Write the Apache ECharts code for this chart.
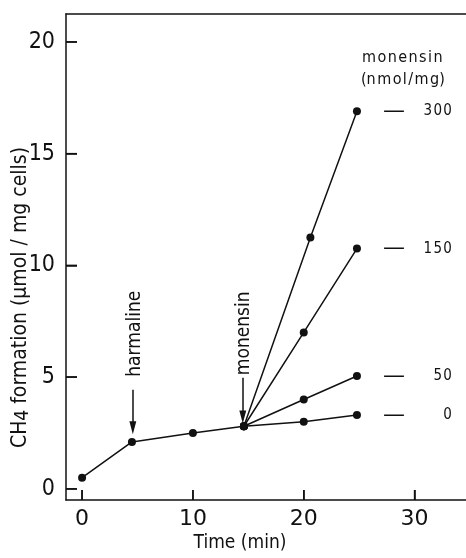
<!DOCTYPE html>
<html>
<head>
<meta charset="utf-8">
<script src="https://cdn.jsdelivr.net/npm/echarts@6/dist/echarts.min.js"></script>
<style>
html,body{margin:0;padding:0;background:#fff;}
#chart{width:466px;height:558px;}
</style>
</head>
<body>
<div id="chart"></div>
<script>
// ---- data ----
const baseTime = [0, 4.5, 10, 14.6];
const baseCH4 = [0.5, 2.1, 2.5, 2.8];

const time0 = [20, 24.8];
const ch4_0 = [3.0, 3.3];
const time50 = [20, 24.8];
const ch4_50 = [4.0, 5.05];
const time150 = [20, 24.8];
const ch4_150 = [7.0, 10.75];
const time300 = [20.6, 24.8];
const ch4_300 = [11.25, 16.9];

const doseLabels = ['0', '50', '150', '300'];
const xTicks = [0, 10, 20, 30];
const yTicks = [0, 5, 10, 15, 20];

// annotations: [x, yTop, yTip]
const harmalineArrow = [4.58, 4.43, 2.73];
const monensinArrow = [14.5, 4.97, 3.22];

const X_MIN = -1.45, X_MAX = 35, Y_MIN = -0.5, Y_MAX = 21.25;

const NARROW = '"Liberation Sans Narrow", "DejaVu Sans Condensed", sans-serif';
const INK = '#111';
const HAIR = '\u200A';

function zip(xs, ys) { return xs.map((x, i) => [x, ys[i]]); }
const branchPoint = [baseTime[baseTime.length - 1], baseCH4[baseCH4.length - 1]];

function spaced(s) { return s.split('').join(HAIR); }
function onlyTicks(list) { return v => (list.indexOf(v) >= 0 ? String(v) : ''); }

const branches = [
  { name: doseLabels[0], data: [branchPoint].concat(zip(time0, ch4_0)) },
  { name: doseLabels[1], data: [branchPoint].concat(zip(time50, ch4_50)) },
  { name: doseLabels[2], data: [branchPoint].concat(zip(time150, ch4_150)) },
  { name: doseLabels[3], data: [branchPoint].concat(zip(time300, ch4_300)) }
];

const lineCommon = {
  type: 'line',
  symbol: 'circle',
  symbolSize: 8,
  showAllSymbol: true,
  itemStyle: { color: INK },
  lineStyle: { color: INK, width: 1.5 },
  animation: false,
  z: 3
};

// slender up-pointing arrowhead inside a square box (markLine rotates it along the line)
const ARROW_HEAD = 'path://M0,0 L0.01,0 M12,0 L12.01,0 M6,0 L9.2,13 L2.8,13 Z';

// inward tick marks drawn through the axes' own scales
function tickSeries(points, dx, dy) {
  return {
    type: 'custom',
    silent: true,
    animation: false,
    z: 10,
    clip: false,
    encode: { x: 0, y: 1 },
    data: points,
    renderItem: function (params, api) {
      const p = api.coord([api.value(0), api.value(1)]);
      return {
        type: 'line',
        shape: { x1: p[0], y1: p[1], x2: p[0] + dx, y2: p[1] + dy },
        style: { stroke: INK, lineWidth: 1.5 }
      };
    }
  };
}

const series = [
  Object.assign({}, lineCommon, {
    name: 'base',
    data: zip(baseTime, baseCH4),
    markLine: {
      silent: true,
      symbol: ['none', ARROW_HEAD],
      symbolSize: 13,
      lineStyle: { color: INK, width: 1.5, type: 'solid' },
      itemStyle: { color: INK },
      label: { show: false },
      data: [
        [{ coord: [harmalineArrow[0], harmalineArrow[1]] }, { coord: [harmalineArrow[0], harmalineArrow[2]] }],
        [{ coord: [monensinArrow[0], monensinArrow[1]] }, { coord: [monensinArrow[0], monensinArrow[2]] }]
      ],
      animation: false
    },
    markPoint: {
      silent: true,
      symbol: 'circle',
      symbolSize: 0,
      label: {
        show: true,
        position: 'inside',
        rotate: 90,
        color: INK,
        fontFamily: NARROW,
        fontSize: 19
      },
      data: [
        { coord: [4.75, 6.94], value: 'harmaline', label: { formatter: 'harmaline' } },
        { coord: [14.6, 6.96], value: 'monensin', label: { formatter: 'monensin' } }
      ],
      animation: false
    }
  })
].concat(branches.map(b => Object.assign({}, lineCommon, {
  name: b.name,
  data: b.data,
  endLabel: {
    show: true,
    distance: 26,
    formatter: '{d|—}{n|' + spaced(b.name) + '}',
    rich: {
      d: { fontFamily: 'DejaVu Sans', fontSize: 22, width: 38, color: INK },
      n: { fontFamily: NARROW, fontSize: 15, width: 31, align: 'right', color: INK }
    }
  }
}))).concat([
  tickSeries(yTicks.map(v => [X_MIN, v]), 11, 0),
  tickSeries(xTicks.map(v => [v, Y_MIN]), 0, -10)
]);

const chart = echarts.init(document.getElementById('chart'), null, { renderer: 'canvas' });
chart.setOption({
  backgroundColor: '#fff',
  animation: false,
  title: [
    { text: spaced('monensin'), left: 362, top: 50, padding: 0,
      textStyle: { fontFamily: NARROW, fontSize: 16, fontWeight: 'normal', color: INK } },
    { text: '(' + spaced('nmol/mg') + ')', left: 361, top: 72, padding: 0,
      textStyle: { fontFamily: NARROW, fontSize: 16, fontWeight: 'normal', color: INK } }
  ],
  grid: { left: 66, top: 14, width: 404, height: 486, containLabel: false, outerBoundsMode: 'none' },
  xAxis: [
    {
      type: 'value', min: X_MIN, max: X_MAX, position: 'bottom', splitNumber: 4,
      axisLine: { show: true, onZero: false, lineStyle: { color: INK, width: 1.5 } },
      axisTick: { show: true, inside: true, length: 10, lineStyle: { color: INK, width: 1.5 } },
      axisLabel: { show: true, showMinLabel: false, showMaxLabel: false, formatter: onlyTicks(xTicks),
        fontFamily: 'DejaVu Sans', fontSize: 22, color: INK, margin: 8 },
      splitLine: { show: false },
      name: '{t|Time (min)}{p|}',
      nameLocation: 'middle',
      nameGap: 34,
      nameMoveOverlap: false,
      nameTextStyle: {
        rich: {
          t: { fontFamily: NARROW, fontSize: 19, color: INK },
          p: { width: 56 }
        }
      }
    },
    {
      type: 'value', min: X_MIN, max: X_MAX, position: 'top',
      axisLine: { show: true, onZero: false, lineStyle: { color: INK, width: 1.5 } },
      axisTick: { show: false }, axisLabel: { show: false }, splitLine: { show: false }
    }
  ],
  yAxis: {
    type: 'value', min: Y_MIN, max: Y_MAX, splitNumber: 5,
    axisLine: { show: true, onZero: false, lineStyle: { color: INK, width: 1.5 } },
    axisTick: { show: true, inside: true, length: 11, lineStyle: { color: INK, width: 1.5 } },
    axisLabel: { show: true, showMinLabel: false, showMaxLabel: false, formatter: onlyTicks(yTicks),
      fontFamily: NARROW, fontSize: 23, color: INK, margin: 11 },
    splitLine: { show: false },
    name: '{a|CH}{s|4}{a| formation (μmol / mg cells)}{p|}',
    nameLocation: 'middle',
    nameRotate: 90,
    nameGap: 33,
    nameMoveOverlap: false,
    nameTextStyle: {
      rich: {
        a: { fontFamily: NARROW, fontSize: 21, color: INK },
        s: { fontFamily: NARROW, fontSize: 19, color: INK, padding: [6, 0, 0, 0] },
        p: { width: 81 }
      }
    }
  },
  series: series
});
</script>
</body>
</html>
